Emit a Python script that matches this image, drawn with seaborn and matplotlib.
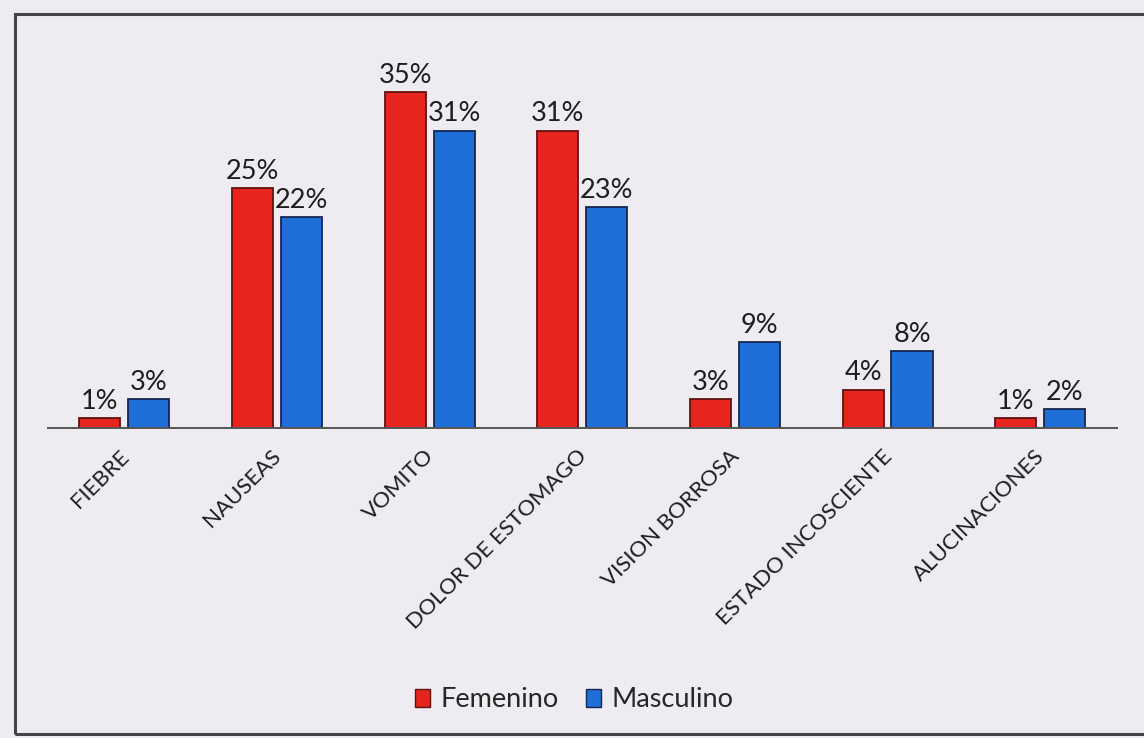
import matplotlib
matplotlib.use("Agg")
import matplotlib.pyplot as plt
import matplotlib.patches as mpatches
import matplotlib.transforms as mtransforms
import pandas as pd
import seaborn as sns

categorias = ["FIEBRE", "NAUSEAS", "VOMITO", "DOLOR DE ESTOMAGO",
              "VISION BORROSA", "ESTADO INCOSCIENTE", "ALUCINACIONES"]
femenino = [1, 25, 35, 31, 3, 4, 1]
masculino = [3, 22, 31, 23, 9, 8, 2]
series = ["Femenino", "Masculino"]

df = pd.DataFrame({
    "sintoma": categorias * 2,
    "sexo": [series[0]] * len(categorias) + [series[1]] * len(categorias),
    "pct": femenino + masculino,
})

sns.set_theme(style="white")
plt.rcParams["font.family"] = ["Lato", "DejaVu Sans"]

bg = "#EEEBF1"
fig = plt.figure(figsize=(11.44, 7.38), dpi=100, facecolor=bg)
ax = fig.add_axes([0.042, 0.42, 0.934, 0.52])
ax.set_facecolor(bg)

colores = {"Femenino": "#E5251E", "Masculino": "#1E6FD8"}
bordes = {"Femenino": "#5E1410", "Masculino": "#16264F"}

sns.barplot(data=df, x="sintoma", y="pct", hue="sexo", palette=colores,
            saturation=1, width=0.64, gap=0.16, ax=ax, legend=False)

# dark outlines per series, percentage labels on top
for cont, s in zip(ax.containers, series):
    for bar in cont:
        bar.set_edgecolor(bordes[s])
        bar.set_linewidth(1.3)
    ax.bar_label(cont, labels=[f"{v:g}%" for v in cont.datavalues],
                 padding=3, fontsize=19.5, color="#1E1E1E")

ax.set_ylim(0, 40)
ax.set_xlim(-0.5, len(categorias) - 0.5)
ax.set_xlabel("")
ax.set_ylabel("")
ax.set_yticks([])
for side in ["top", "left", "right"]:
    ax.spines[side].set_visible(False)
ax.spines["bottom"].set_color("#555555")
ax.spines["bottom"].set_linewidth(1.4)

ax.tick_params(axis="x", length=0, pad=13)
ax.set_xticks(range(len(categorias)))
ax.set_xticklabels(categorias, rotation=45, ha="right", rotation_mode="anchor",
                   fontsize=16, color="#1E1E1E")

# nudge the slanted labels a little to the left
offset = mtransforms.ScaledTranslation(-6 / 100, 0, fig.dpi_scale_trans)
for lbl in ax.get_xticklabels():
    lbl.set_transform(lbl.get_transform() + offset)

handles = [mpatches.Patch(facecolor=colores[s], edgecolor=bordes[s], label=s)
           for s in series]
fig.legend(handles=handles, loc="center", bbox_to_anchor=(0.502, 0.0515),
           ncol=2, frameon=False, handlelength=0.55,
           handleheight=0.6, handletextpad=0.4, columnspacing=1.0,
           prop={"size": 19.5})

# outer frame of the chart
frame = mpatches.Rectangle((15 / 1144, 1 - 734 / 738), 1.2, (734 - 14) / 738,
                           transform=fig.transFigure, fill=False,
                           edgecolor="#444444", linewidth=2.2, clip_on=False)
fig.patches.append(frame)

fig.savefig("out.png", dpi=100, facecolor=bg)
